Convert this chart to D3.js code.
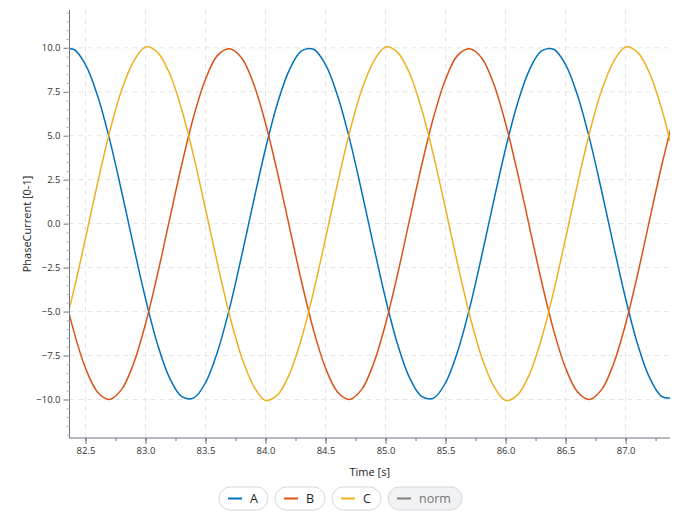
<!DOCTYPE html>
<html><head><meta charset="utf-8">
<script src="https://cdn.jsdelivr.net/npm/d3@7"></script>
<style>body{margin:0;background:#fff;font-family:"Open Sans",sans-serif}</style>
</head><body><svg id="c" width="680" height="520"></svg>
<script>
const times = d3.range(52).map(k => +(82.3 + 0.1*k).toFixed(1));
const seriesA = [9.82,9.92,9.05,7.29,4.82,1.87,-1.25,-4.26,-6.85,-8.76,-9.82,-9.92,-9.05,-7.29,-4.82,-1.87,1.25,4.26,6.85,8.76,
 9.82,9.92,9.05,7.29,4.82,1.87,-1.25,-4.26,-6.85,-8.76,-9.82,-9.92,-9.05,-7.29,-4.82,-1.87,1.25,4.26,6.85,8.76,
 9.82,9.92,9.05,7.29,4.82,1.87,-1.25,-4.26,-6.85,-8.76,-9.82,-9.92];
const seriesB = [-3.29,-6.05,-8.21,-9.57,-10.0,-9.44,-7.97,-5.71,-2.89,0.21,3.29,6.05,8.21,9.57,9.95,9.44,7.97,5.71,2.89,-0.21,
 -3.29,-6.05,-8.21,-9.57,-10.0,-9.44,-7.97,-5.71,-2.89,0.21,3.29,6.05,8.21,9.57,9.95,9.44,7.97,5.71,2.89,-0.21,
 -3.29,-6.05,-8.21,-9.57,-10.0,-9.44,-7.97,-5.71,-2.89,0.21,3.29,6.05];
const seriesC = [-6.53,-3.88,-0.84,2.28,5.18,7.57,9.22,10.05,9.74,8.55,6.53,3.88,0.84,-2.28,-5.18,-7.57,-9.22,-10.05,-9.74,-8.55,
 -6.53,-3.88,-0.84,2.28,5.18,7.57,9.22,10.05,9.74,8.55,6.53,3.88,0.84,-2.28,-5.18,-7.57,-9.22,-10.05,-9.74,-8.55,
 -6.53,-3.88,-0.84,2.28,5.18,7.57,9.22,10.05,9.74,8.55,6.53,3.88];
const names = ["A","B","C"];
const colors = ["#0072bd","#d95319","#edb120"];
const xTicks = [82.5,83.0,83.5,84.0,84.5,85.0,85.5,86.0,86.5,87.0];
const yTicks = [-10,-7.5,-5,-2.5,0,2.5,5,7.5,10];

const svg = d3.select("#c");
const L=69.5, R=670, T=10, B=438;
const x = d3.scaleLinear().domain([82.367,87.37]).range([L,R]);
const y = d3.scaleLinear().domain([-12.19,12.15]).range([B,T]);

const g = svg.append("g");
g.selectAll(".gx").data(xTicks).join("line").attr("x1",d=>x(d)).attr("x2",d=>x(d)).attr("y1",T).attr("y2",B)
 .attr("stroke","#e4e4e4").attr("stroke-dasharray","5,4");
g.selectAll(".gy").data(yTicks).join("line").attr("y1",d=>y(d)).attr("y2",d=>y(d)).attr("x1",L).attr("x2",R)
 .attr("stroke","#e4e4e4").attr("stroke-dasharray","5,4");

svg.append("clipPath").attr("id","cp").append("rect").attr("x",L).attr("y",T).attr("width",R-L).attr("height",B-T);
const line = d3.line().x((d,i)=>x(times[i])).y(d=>y(d)).curve(d3.curveCatmullRom);
[seriesA,seriesB,seriesC].forEach((s,i)=>{
  svg.append("path").attr("d",line(s)).attr("fill","none").attr("stroke",colors[i]).attr("stroke-width",1.5).attr("clip-path","url(#cp)");
});

const axCol="#6b7280";
const xa = svg.append("g").attr("transform",`translate(0,${B})`)
 .call(d3.axisBottom(x).tickValues(xTicks).tickFormat(d3.format(".1f")).tickSize(6).tickSizeOuter(0));
const xm = svg.append("g").attr("transform",`translate(0,${B})`)
 .call(d3.axisBottom(x).tickValues(d3.range(82.5,87.4,0.25)).tickFormat("").tickSize(3).tickSizeOuter(0));
const ya = svg.append("g").attr("transform",`translate(${L},0)`)
 .call(d3.axisLeft(y).tickValues(yTicks).tickFormat(d3.format(".1f")).tickSize(6).tickSizeOuter(0));
const ym = svg.append("g").attr("transform",`translate(${L},0)`)
 .call(d3.axisLeft(y).tickValues(d3.range(-12,12.1,0.5)).tickFormat("").tickSize(3).tickSizeOuter(0));
[xa,xm,ya,ym].forEach(a=>{a.selectAll("path,line").attr("stroke",axCol);a.selectAll("text").attr("fill","#333").attr("font-size",9.5).attr("font-family","Open Sans");});
xm.select("path").attr("stroke","none"); ym.select("path").attr("stroke","none");
ym.selectAll("line").attr("stroke","#b8bcc4");
xa.select("path").attr("d",`M${L},0H${R}`);
ya.select("path").attr("d",`M0,${T}V${B}`);

svg.append("text").attr("x",(L+R)/2).attr("y",476).attr("text-anchor","middle").attr("font-size",11).attr("fill","#222").text("Time [s]");
svg.append("text").attr("transform",`translate(31,${(T+B)/2}) rotate(-90)`).attr("text-anchor","middle").attr("font-size",11).attr("fill","#222").text("PhaseCurrent [0-1]");

const leg=[{n:"A",c:colors[0],x:219,w:49},{n:"B",c:colors[1],x:275,w:50},{n:"C",c:colors[2],x:332,w:49},{n:"norm",c:"#808080",x:388,w:74,off:true}];
leg.forEach(l=>{
  const gg=svg.append("g");
  gg.append("rect").attr("x",l.x).attr("y",487).attr("width",l.w).attr("height",23).attr("rx",11.5)
   .attr("fill",l.off?"#f1f2f4":"#fff").attr("stroke","#d3d7de");
  gg.append("line").attr("x1",l.x+9).attr("x2",l.x+23).attr("y1",498.5).attr("y2",498.5).attr("stroke",l.c).attr("stroke-width",2);
  gg.append("text").attr("x",l.x+31).attr("y",503).attr("font-size",12.5).attr("fill",l.off?"#777":"#222").text(l.n);
});
</script></body></html>
